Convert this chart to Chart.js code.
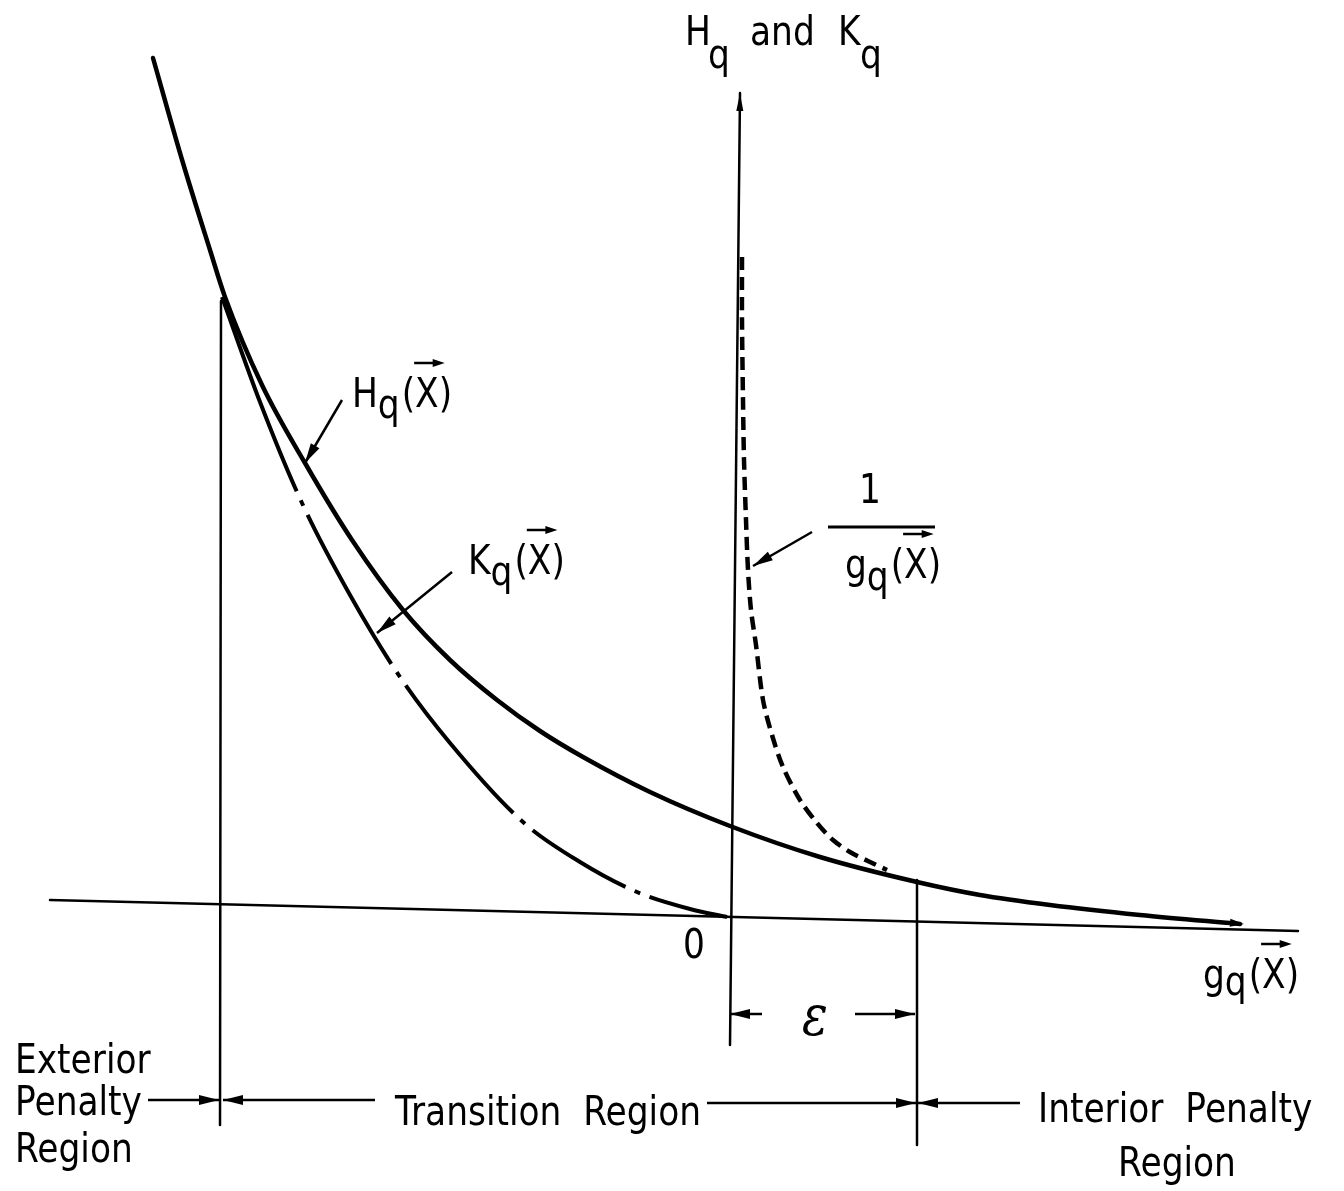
<!DOCTYPE html>
<html><head><meta charset="utf-8">
<script src="https://cdn.jsdelivr.net/npm/chart.js@4.4.1/dist/chart.umd.min.js"></script>
<style>html,body{margin:0;padding:0;background:#fff}canvas{display:block}</style>
</head><body>
<canvas id="c" width="1344" height="1191"></canvas>
<script>
// ---- curve data (g_q(X) on x, H_q/K_q on y) ----
const hX = [-5.77,-5.47,-5.20,-5.05,-4.68,-4.25,-3.78,-3.27,-2.80,-2.33,-1.90,-1.47,-0.80,0.00,0.90,1.87,2.50,3.20,4.10,5.10];
const hY = [8.59,7.54,6.67,6.20,5.32,4.54,3.77,3.07,2.57,2.17,1.86,1.60,1.25,0.91,0.60,0.35,0.22,0.12,0.02,-0.07];
const kX = [-5.08,-4.70,-4.28,-3.80,-3.30,-2.80,-2.07,-1.50,-0.93,-0.40,-0.03];
const kY = [6.20,5.15,4.14,3.22,2.40,1.74,0.95,0.55,0.25,0.08,0.00];
const gX = [0.12,0.12,0.13,0.14,0.16,0.18,0.21,0.26,0.33,0.42,0.53,0.70,0.87,1.03,1.20,1.40,1.57];
const gY = [6.60,5.97,5.17,4.57,3.97,3.47,3.07,2.72,2.17,1.82,1.50,1.17,0.94,0.77,0.65,0.55,0.47];
// axes and region boundaries
const axisX = [-6.80, 5.68], axisY = [0.17, -0.14];
const vAxisX = [0.10, 0.00], vAxisY = [8.24, -1.28];
const leftBX = [-5.09, -5.10], leftBY = [6.16, -2.08];
const rightBX = [1.87, 1.87], rightBY = [0.37, -2.28];
// label texts
const plainStr   = ['H','q','and','K','q','0','Exterior','Penalty','Region','Transition  Region','Interior  Penalty','Region','1'];
const plainX     = [-0.45,-0.22,0.20,1.08,1.30,-0.36,-7.15,-7.15,-7.15,-3.35,3.08,4.47,1.40];
const plainY     = [8.72,8.49,8.72,8.72,8.49,-0.41,-1.56,-1.98,-2.45,-2.08,-2.05,-2.59,4.14];
const plainAlign = ['left','left','left','left','left','center','left','left','left','left','left','center','center'];
const vecMain = ['H','K','g','g'];
const vecX    = [-3.78,-2.62,1.15,4.73];
const vecY    = [5.10,3.43,3.39,-0.71];
const vecSub  = [11,11,12,7];
// pointer arrows [x1,y1,x2,y2]
const ptrX1 = [-3.88,-2.78,0.82, 0.32,1.25,-5.82,-3.55,-0.23,2.90];
const ptrY1 = [5.17,3.45,3.85,-0.97,-0.97,-1.83,-1.83,-1.86,-1.86];
const ptrX2 = [-4.25,-3.53,0.23, 0.00,1.85,-5.11,-5.07,1.86,1.88];
const ptrY2 = [4.54,2.84,3.51,-0.97,-0.97,-1.83,-1.83,-1.86,-1.86];
const fracX = [0.98, 2.05], fracY = [3.90, 3.90];

const pts = (xs, ys) => xs.map((v, i) => ({x: v, y: ys[i]}));
const S = 0.86, FS = 40, FONT = '"DejaVu Sans", sans-serif';

function txt(ctx, s, px, py, align) {
  const w = ctx.measureText(s).width * S;
  let x0 = px;
  if (align === 'center') x0 = px - w / 2;
  else if (align === 'right') x0 = px - w;
  ctx.save(); ctx.translate(x0, py); ctx.scale(S, 1);
  ctx.textAlign = 'left'; ctx.textBaseline = 'alphabetic';
  ctx.fillText(s, 0, 0); ctx.restore();
  return w;
}
function head(ctx, x1, y1, x2, y2, len, half) {
  const a = Math.atan2(y2 - y1, x2 - x1);
  ctx.beginPath();
  ctx.moveTo(x2, y2);
  ctx.lineTo(x2 - len * Math.cos(a) + half * Math.sin(a), y2 - len * Math.sin(a) - half * Math.cos(a));
  ctx.lineTo(x2 - len * Math.cos(a) - half * Math.sin(a), y2 - len * Math.sin(a) + half * Math.cos(a));
  ctx.closePath(); ctx.fill();
}

const annot = {
  id: 'annot',
  afterDatasetsDraw(chart) {
    const ctx = chart.ctx, xs = chart.scales.x, ys = chart.scales.y;
    const X = v => xs.getPixelForValue(v), Y = v => ys.getPixelForValue(v);
    ctx.save();
    ctx.fillStyle = '#000'; ctx.strokeStyle = '#000';
    ctx.font = FS + 'px ' + FONT;
    plainStr.forEach((s, i) => txt(ctx, s, X(plainX[i]), Y(plainY[i]), plainAlign[i]));
    // epsilon
    ctx.font = 'italic 56px "DejaVu Serif", serif';
    txt(ctx, 'ε', X(0.85), Y(-1.18), 'center');
    ctx.font = FS + 'px ' + FONT;
    // vector labels  M_q(X->)
    vecMain.forEach((m, i) => {
      let px = X(vecX[i]); const py = Y(vecY[i]);
      px += txt(ctx, m, px, py);
      px += txt(ctx, 'q', px, py + vecSub[i]) + 2;
      const wp = txt(ctx, '(', px, py);
      const wx = ctx.measureText('X').width * S;
      txt(ctx, 'X', px + wp, py);
      txt(ctx, ')', px + wp + wx, py);
      const ay = py - 44, ax1 = px + wp - 1, ax2 = px + wp + wx + 6;
      ctx.lineWidth = 2.5;
      ctx.beginPath(); ctx.moveTo(ax1, ay); ctx.lineTo(ax2 - 6, ay); ctx.stroke();
      head(ctx, ax1, ay, ax2, ay, 12, 4);
    });
    // fraction bar
    ctx.lineWidth = 3;
    ctx.beginPath(); ctx.moveTo(X(fracX[0]), Y(fracY[0])); ctx.lineTo(X(fracX[1]), Y(fracY[1])); ctx.stroke();
    // pointer arrows
    ctx.lineWidth = 2.5;
    ptrX1.forEach((v, i) => {
      const x1 = X(v), y1 = Y(ptrY1[i]), x2 = X(ptrX2[i]), y2 = Y(ptrY2[i]);
      ctx.beginPath(); ctx.moveTo(x1, y1); ctx.lineTo(x2, y2); ctx.stroke();
      head(ctx, x1, y1, x2, y2, 20, 5);
    });
    // vertical axis arrow tip
    head(ctx, X(vAxisX[1]), Y(vAxisY[1]), X(vAxisX[0]), Y(vAxisY[0]), 18, 3.5);
    // H curve end tip
    const n = hX.length;
    head(ctx, X(hX[n - 2]), Y(hY[n - 2]), X(hX[n - 1]) + 4, Y(hY[n - 1]), 14, 4);
    ctx.restore();
  }
};

const line = (d, w, extra) => Object.assign({
  data: d, showLine: true, pointRadius: 0, borderColor: '#000', borderWidth: w,
  tension: 0.3, fill: false, borderCapStyle: 'round'
}, extra || {});

new Chart(document.getElementById('c'), {
  type: 'scatter',
  data: {
    datasets: [
      line(pts(axisX, axisY), 2.5, {tension: 0}),
      line(pts(vAxisX, vAxisY), 2.5, {tension: 0}),
      line(pts(leftBX, leftBY), 2.5, {tension: 0}),
      line(pts(rightBX, rightBY), 2.5, {tension: 0}),
      line(pts(hX, hY), 4.5, {cubicInterpolationMode: 'monotone'}),
      line(pts(kX, kY), 4, {cubicInterpolationMode: 'monotone',
        borderDash: [208, 10, 6, 10, 171, 10, 6, 10, 167, 10, 6, 10, 109, 10, 6, 10, 300], borderDashOffset: 0, borderCapStyle: 'butt'}),
      line(pts(gX, gY), 4.5, {borderDash: [13, 7], borderCapStyle: 'butt'})
    ]
  },
  options: {
    responsive: false, animation: false, devicePixelRatio: 1,
    layout: {padding: 0},
    plugins: {legend: {display: false}, tooltip: {enabled: false}},
    scales: {
      x: {type: 'linear', min: -7.30, max: 6.14, display: false},
      y: {type: 'linear', min: -2.74, max: 9.17, display: false}
    }
  },
  plugins: [annot]
});
</script>
</body></html>
